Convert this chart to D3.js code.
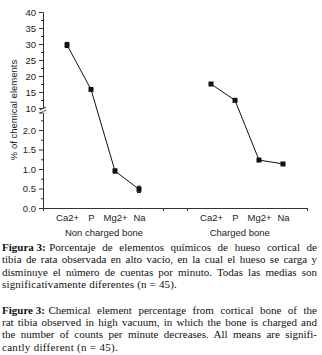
<!DOCTYPE html>
<html>
<head>
<meta charset="utf-8">
<script src="https://cdn.jsdelivr.net/npm/d3@7"></script>
<style>
  body { margin: 0; background: #fff; }
  svg { display: block; }
</style>
</head>
<body>
<div id="chart"></div>
<script>
// data
const elements = ['Ca2+', 'P', 'Mg2+', 'Na'];
const groups = ['Non charged bone', 'Charged bone'];
const groupPos = [[1, 2, 3, 4], [7, 8, 9, 10]];
const nonCharged = [29.7, 15.8, 0.95, 0.48];
const nonChargedErr = [0.8, 0.2, 0.05, 0.08];
const charged = [17.5, 12.4, 1.23, 1.13];
const chargedErr = [0.2, 0.2, 0.02, 0.02];
const upperTicks = [10, 15, 20, 25, 30, 35, 40];
const lowerTicks = [0.0, 0.5, 1.0, 1.5, 2.0];

const captionEs = [
    ['Figura 3:', 'Porcentaje de elementos químicos de hueso cortical de'],
    ['', 'tibia de rata observada en alto vacío, en la cual el hueso se carga y'],
    ['', 'disminuye el número de cuentas por minuto. Todas las medias son'],
    ['', 'significativamente diferentes (n = 45).']
];
const captionEn = [
    ['Figure 3:', 'Chemical element percentage from cortical bone of the'],
    ['', 'rat tibia observed in high vacuum, in which the bone is charged and'],
    ['', 'the number of counts per minute decreases. All means are signifi-'],
    ['', 'cantly different (n = 45).']
];

let width = 322;
let height = 355;

let svg = d3.select('#chart')
    .append('svg')
    .attr('width', width)
    .attr('height', height);

// x: 0..11 across the axis
let x = d3.scaleLinear()
    .domain([0, 11])
    .range([43, 307]);

// broken y axis: two segments
let yHi = d3.scaleLinear().domain([10, 40]).range([108, 12]);
let yLo = d3.scaleLinear().domain([0, 2.45]).range([208, 112.5]);
let yPos = v => v >= 10 ? yHi(v) : yLo(v);

let axisColor = '#333';

// upper y axis
svg.append('g')
    .attr('transform', 'translate(43,0)')
    .call(d3.axisLeft(yHi).tickValues(upperTicks).tickSize(4).tickPadding(3));

// lower y axis
svg.append('g')
    .attr('transform', 'translate(43,0)')
    .call(d3.axisLeft(yLo).tickValues(lowerTicks).tickSize(4).tickPadding(3)
        .tickFormat(d3.format('.1f')));

// minor ticks
svg.append('g')
    .attr('transform', 'translate(43,0)')
    .call(d3.axisLeft(yHi).tickValues([12.5, 17.5, 22.5, 27.5, 32.5, 37.5]).tickSize(2).tickFormat(''))
    .select('.domain').remove();
svg.append('g')
    .attr('transform', 'translate(43,0)')
    .call(d3.axisLeft(yLo).tickValues([0.25, 0.75, 1.25, 1.75, 2.25]).tickSize(2).tickFormat(''))
    .select('.domain').remove();

// x axis: plain ticks plus category labels
svg.append('g')
    .attr('transform', 'translate(0,208)')
    .call(d3.axisBottom(x).tickValues([5, 6, 11]).tickSize(3).tickFormat(''));

let labelPos = groupPos[0].concat(groupPos[1]);
let labelTxt = elements.concat(elements);
let gxl = svg.append('g')
    .attr('transform', 'translate(0,208)')
    .call(d3.axisBottom(x).tickValues(labelPos).tickSize(0).tickPadding(6)
        .tickFormat((d, i) => labelTxt[i]));
gxl.select('.domain').remove();

svg.selectAll('.domain, .tick line')
    .attr('stroke', axisColor)
    .attr('stroke-width', 1);
svg.selectAll('.tick text')
    .attr('fill', '#222')
    .style('font-family', 'Liberation Sans, Arial, sans-serif')
    .style('font-size', '9.5px');

// axis break mark
svg.append('path')
    .attr('d', 'M40,110 L46,107 M40,113 L46,110')
    .attr('stroke', axisColor)
    .attr('fill', 'none');
svg.append('rect')
    .attr('x', 42).attr('y', 109.3).attr('width', 2).attr('height', 2)
    .attr('fill', '#fff');

// group labels
svg.append('text')
    .attr('x', x(2.5) + 1)
    .attr('y', 236)
    .attr('text-anchor', 'middle')
    .attr('fill', '#222')
    .style('font-family', 'Liberation Sans, Arial, sans-serif')
    .style('font-size', '9.5px')
    .text(groups[0]);
svg.append('text')
    .attr('x', x(8.2))
    .attr('y', 236)
    .attr('text-anchor', 'middle')
    .attr('fill', '#222')
    .style('font-family', 'Liberation Sans, Arial, sans-serif')
    .style('font-size', '9.5px')
    .text(groups[1]);

// y title
svg.append('text')
    .attr('transform', 'translate(17,110) rotate(-90)')
    .attr('text-anchor', 'middle')
    .attr('fill', '#222')
    .style('font-family', 'Liberation Sans, Arial, sans-serif')
    .style('font-size', '9.5px')
    .text('% of chemical elements');

// series
let series = [
    { pos: groupPos[0], val: nonCharged, err: nonChargedErr },
    { pos: groupPos[1], val: charged, err: chargedErr }
];

let line = d3.line()
    .x(d => x(d[0]))
    .y(d => yPos(d[1]));

series.forEach(s => {
    let pts = s.pos.map((p, i) => [p, s.val[i], s.err[i]]);

    svg.append('path')
        .datum(pts)
        .attr('d', line)
        .attr('fill', 'none')
        .attr('stroke', '#111')
        .attr('stroke-width', 1);

    // error bars
    let eb = svg.append('g').selectAll('g')
        .data(pts)
        .enter()
        .append('g');
    eb.append('line')
        .attr('x1', d => x(d[0])).attr('x2', d => x(d[0]))
        .attr('y1', d => yPos(d[1] - d[2])).attr('y2', d => yPos(d[1] + d[2]))
        .attr('stroke', '#111');
    eb.selectAll('line.cap')
        .data(d => [d[1] - d[2], d[1] + d[2]].map(v => [d[0], v]))
        .enter()
        .append('line')
        .attr('class', 'cap')
        .attr('x1', d => x(d[0]) - 2).attr('x2', d => x(d[0]) + 2)
        .attr('y1', d => yPos(d[1])).attr('y2', d => yPos(d[1]))
        .attr('stroke', '#111');

    svg.append('g').selectAll('rect')
        .data(pts)
        .enter()
        .append('rect')
        .attr('x', d => x(d[0]) - 2.5)
        .attr('y', d => yPos(d[1]) - 2.5)
        .attr('width', 5)
        .attr('height', 5)
        .attr('fill', '#111');
});

// caption, justified like the printed page
function captionText(x0, y) {
    return svg.append('text')
        .attr('x', x0)
        .attr('y', y)
        .attr('fill', '#111')
        .style('font-family', 'Liberation Serif, Times New Roman, serif')
        .style('font-size', '11px');
}

function addCaption(lines, y0, lastWidth) {
    lines.forEach((ln, i) => {
        let last = i === lines.length - 1;
        let y = y0 + i * 12.4;
        let x0 = 2;
        let right = last ? 2 + lastWidth : 317;
        if (ln[0]) {
            let b = captionText(x0, y).style('font-weight', 'bold').text(ln[0]);
            x0 += b.node().getComputedTextLength() + 3.5;
        }
        let t = captionText(x0, y).text(ln[1]);
        let extra = (right - x0) - t.node().getComputedTextLength();
        if (last) {
            // the printed face is wider; spread letters a little
            t.style('letter-spacing', (extra / ln[1].length) + 'px');
        } else {
            let gaps = ln[1].split(' ').length - 1;
            t.style('word-spacing', (extra / gaps) + 'px');
        }
    });
}
addCaption(captionEs, 251, 175);
addCaption(captionEn, 313.5, 116);
</script>
</body>
</html>
